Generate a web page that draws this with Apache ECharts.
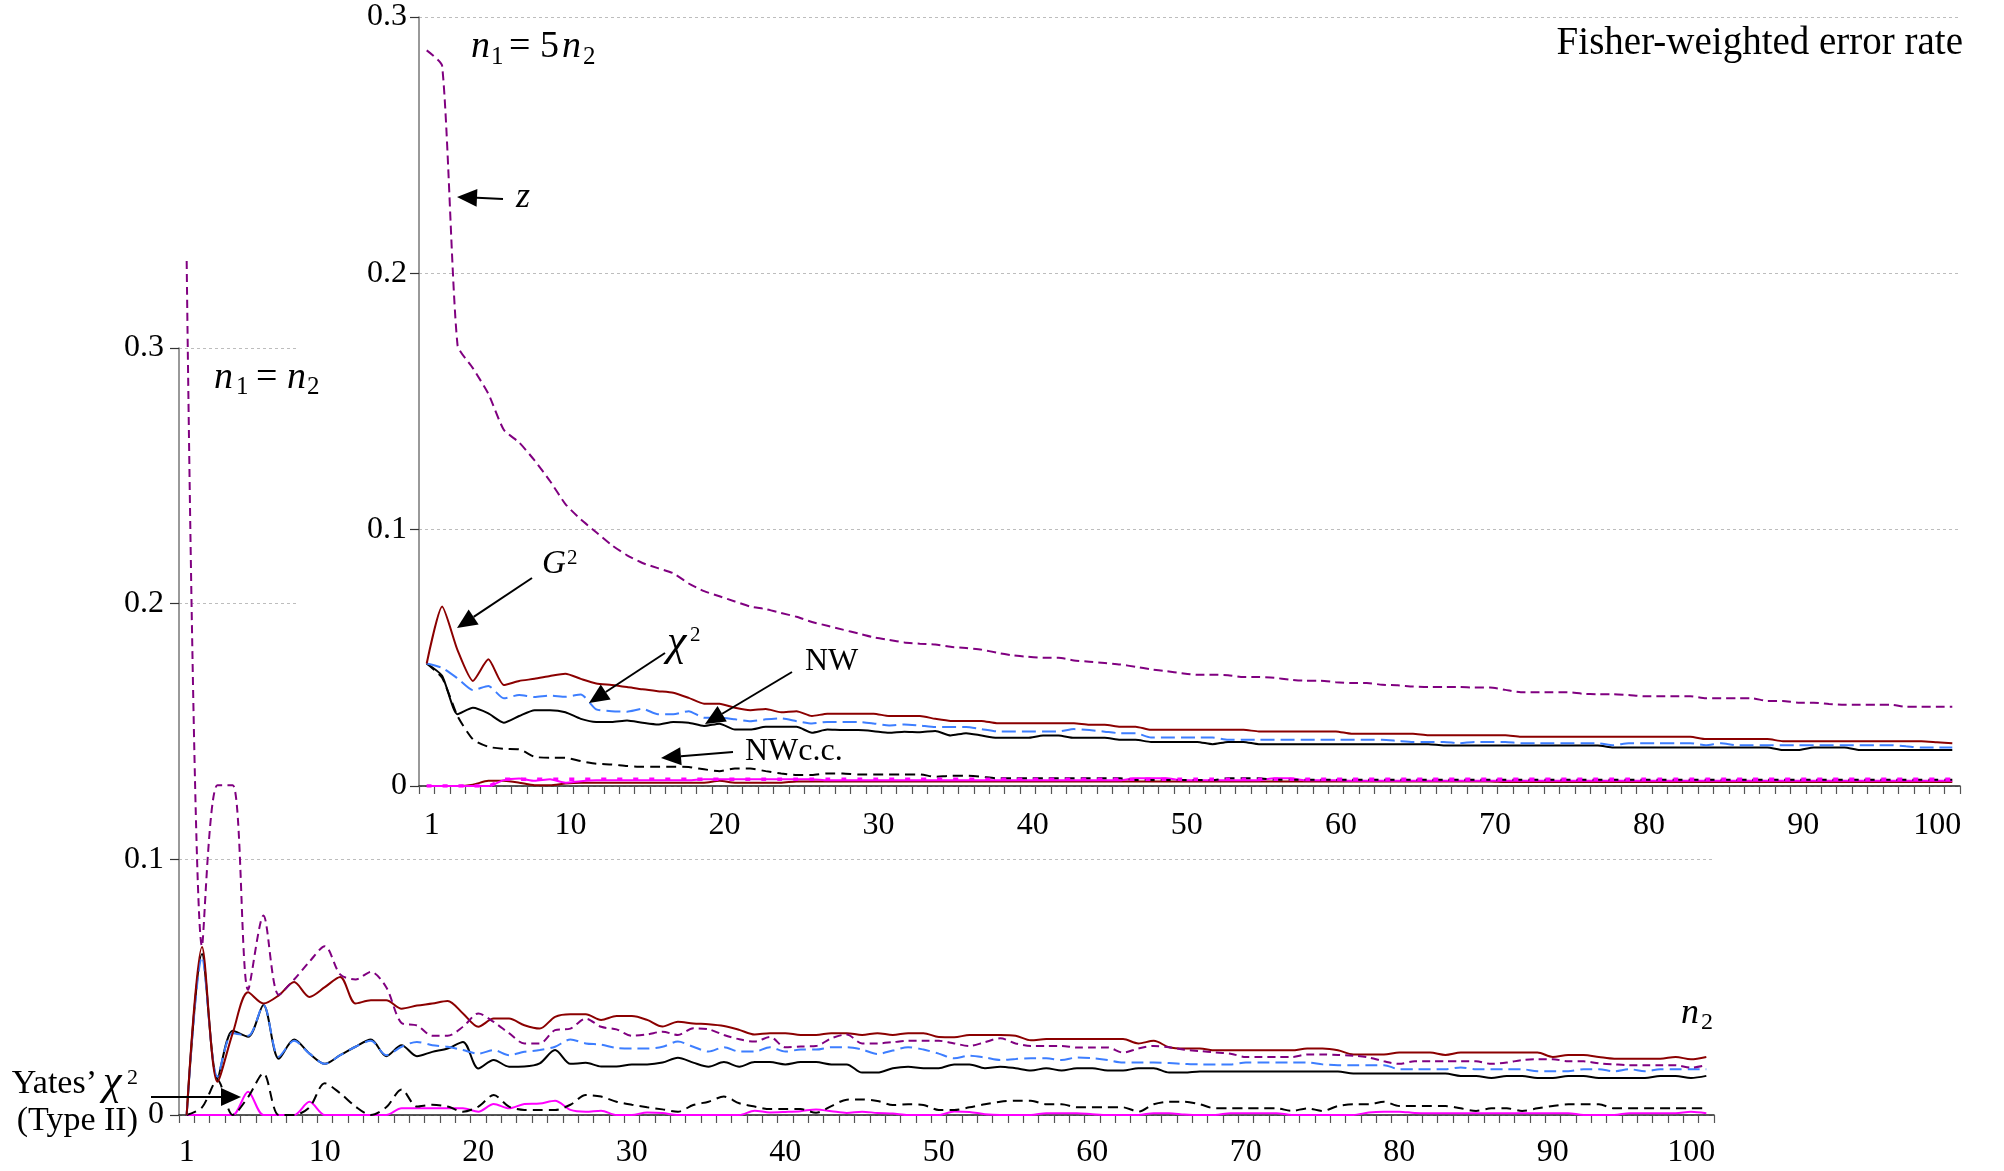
<!DOCTYPE html>
<html>
<head>
<meta charset="utf-8">
<script src="https://cdn.jsdelivr.net/npm/echarts@6/dist/echarts.min.js"></script>
<style>
  html, body { margin: 0; padding: 0; background: #ffffff; }
  #chart { width: 2004px; height: 1171px; }
</style>
</head>
<body>
<div id="chart"></div>
<script>
// n2 = 1 .. 100
const nLabels = Array.from({ length: 100 }, (_, i) => String(i + 1));
const yTicks = [0, 0.1, 0.2, 0.3];

// ---- n1 = n2 (main panel) ----
const zBot = [0.334,0.066,0.129,0.129,0.049,0.078,0.047,0.053,0.060,0.066,
  0.055,0.053,0.056,0.050,0.036,0.035,0.031,0.031,0.0345,0.0397,
  0.0364,0.032,0.028,0.028,0.0332,0.0338,0.0377,0.0345,0.0335,0.031,
  0.0315,0.0326,0.0313,0.0339,0.0335,0.0313,0.0296,0.0287,0.0305,0.0265,
  0.0268,0.027,0.030,0.0315,0.028,0.028,0.0285,0.029,0.029,0.029,
  0.028,0.027,0.0285,0.030,0.028,0.027,0.027,0.027,0.0264,0.0264,
  0.0264,0.0244,0.026,0.027,0.0265,0.0255,0.025,0.0245,0.024,0.0227,
  0.0227,0.0227,0.0227,0.0237,0.0237,0.0235,0.0232,0.0225,0.021,0.020,
  0.021,0.021,0.021,0.021,0.021,0.020,0.0205,0.0215,0.0218,0.0218,
  0.021,0.021,0.0202,0.0198,0.0195,0.0195,0.0195,0.0195,0.0185,0.0195];

const g2Bot = [0,0.0657,0.013,0.032,0.048,0.0436,0.0468,0.052,0.0462,0.050,
  0.054,0.0436,0.0449,0.0449,0.0416,0.0428,0.0436,0.0446,0.0397,0.0345,
  0.0377,0.0377,0.0351,0.0338,0.0384,0.0394,0.0394,0.0372,0.0387,0.0387,
  0.0372,0.0346,0.0365,0.0358,0.0355,0.0348,0.0333,0.0315,0.032,0.032,
  0.0313,0.0313,0.032,0.032,0.0313,0.032,0.0313,0.032,0.032,0.0305,
  0.0304,0.0313,0.0313,0.0313,0.031,0.0292,0.0297,0.0297,0.0297,0.0297,
  0.0297,0.0297,0.028,0.029,0.0265,0.026,0.026,0.0253,0.0253,0.0253,
  0.0253,0.0253,0.0253,0.026,0.026,0.0253,0.0237,0.0237,0.0237,0.0244,
  0.0244,0.0244,0.0235,0.0244,0.0244,0.0244,0.0244,0.0244,0.0244,0.0227,
  0.0235,0.0235,0.0227,0.022,0.022,0.022,0.022,0.0227,0.0218,0.0227];

const chiBot = [0,0.0618,0.015,0.032,0.031,0.043,0.0228,0.029,0.024,0.020,
  0.0234,0.0267,0.029,0.0234,0.0267,0.0286,0.0273,0.0267,0.0254,0.024,
  0.0254,0.0234,0.0247,0.0254,0.0267,0.0295,0.028,0.0275,0.0262,0.026,
  0.026,0.0267,0.0287,0.0267,0.0248,0.0265,0.0248,0.0248,0.0265,0.0248,
  0.0256,0.0256,0.0265,0.0265,0.0256,0.0239,0.0252,0.0265,0.0256,0.024,
  0.0222,0.0232,0.0225,0.0215,0.0219,0.0222,0.0222,0.0215,0.0225,0.0222,
  0.0215,0.0205,0.0205,0.0205,0.0203,0.020,0.0198,0.0198,0.0198,0.0205,
  0.0205,0.0205,0.0205,0.0205,0.0198,0.0195,0.0195,0.0195,0.0195,0.0179,
  0.0179,0.0179,0.0179,0.0186,0.0179,0.0179,0.0179,0.0179,0.0171,0.0171,
  0.0171,0.0179,0.0179,0.0171,0.0179,0.0171,0.0179,0.0179,0.0179,0.0179];

const nwBot = [0,0.063,0.0143,0.033,0.0306,0.043,0.022,0.0295,0.024,0.020,
  0.0234,0.0267,0.0295,0.023,0.0273,0.023,0.0247,0.026,0.0286,0.0182,
  0.0215,0.0189,0.019,0.0202,0.0254,0.020,0.0204,0.019,0.019,0.0198,
  0.0198,0.0205,0.0224,0.0205,0.0189,0.0207,0.0189,0.0207,0.0207,0.0198,
  0.0207,0.0207,0.0198,0.0198,0.0166,0.0166,0.0183,0.0189,0.0183,0.0183,
  0.0198,0.0198,0.0183,0.0189,0.0183,0.0174,0.0183,0.0174,0.0183,0.0183,
  0.0174,0.0174,0.0183,0.0183,0.0166,0.0166,0.017,0.017,0.017,0.017,
  0.017,0.017,0.017,0.017,0.017,0.017,0.0162,0.0162,0.0162,0.0162,
  0.0162,0.0162,0.0162,0.0153,0.0153,0.0145,0.0153,0.0153,0.0145,0.0145,
  0.0153,0.0153,0.0145,0.0145,0.0145,0.0145,0.0153,0.0153,0.0145,0.0153];

const nwccBot = [0,0.003,0.0137,0,0.007,0.0163,0,0,0.003,0.0124,
  0.0085,0.0033,0,0.003,0.010,0.0033,0.004,0.0033,0.0013,0.0033,
  0.0078,0.0033,0.002,0.002,0.002,0.004,0.0078,0.0072,0.0052,0.004,
  0.003,0.0022,0.0013,0.0039,0.0052,0.0072,0.0046,0.0033,0.0023,0.0023,
  0.0023,0.0009,0.0035,0.006,0.0061,0.0055,0.0039,0.0042,0.0039,0.002,
  0.002,0.003,0.0042,0.0052,0.0056,0.0056,0.0042,0.0042,0.003,0.003,
  0.003,0.003,0.0013,0.0042,0.0052,0.0052,0.0042,0.0026,0.0026,0.0026,
  0.0026,0.0026,0.0016,0.0026,0.0016,0.0035,0.0042,0.0042,0.0052,0.0035,
  0.0035,0.0035,0.0035,0.0026,0.0016,0.0026,0.0026,0.0016,0.0026,0.0035,
  0.0042,0.0042,0.0042,0.0026,0.0026,0.0026,0.0026,0.0026,0.0026,0.0026];

const yatesBot = [0,0,0,0,0.0091,0,0,0,0.0052,0,
  0,0,0,0,0.0026,0.0026,0.0026,0.0026,0.0026,0.0013,
  0.0043,0.0026,0.0043,0.0045,0.0056,0.002,0.0013,0.0017,0,0,
  0.001,0.0008,0,0,0,0,0,0.0017,0.001,0.0012,
  0.0015,0.0022,0.0015,0.0008,0.0013,0.0008,0.0006,0,0,0,
  0.0014,0.0012,0.0003,0,0,0,0.0007,0.0007,0.0007,0.0003,
  0,0,0,0.0007,0.0007,0.0002,0,0,0.0007,0.0007,
  0.0007,0.0007,0,0,0,0,0,0.001,0.0013,0.0013,
  0.0008,0.0007,0.0007,0.0007,0.0007,0.0007,0.0007,0.0007,0.0007,0.0007,
  0.0007,0,0,0,0.0007,0.0007,0.0007,0.0007,0.0013,0.0007];

// ---- n1 = 5 n2 (inset panel) ----
const zTop = [0.287,0.281,0.172,0.163,0.153,0.139,0.134,0.127,0.119,0.110,
  0.104,0.099,0.094,0.090,0.087,0.085,0.083,0.079,0.076,0.074,
  0.072,0.070,0.069,0.0675,0.066,0.064,0.0625,0.061,0.0595,0.058,
  0.057,0.056,0.0555,0.0552,0.0543,0.0538,0.0532,0.052,0.051,0.0504,
  0.050,0.050,0.049,0.0485,0.048,0.0474,0.0465,0.0455,0.0448,0.044,
  0.0434,0.0434,0.0432,0.0425,0.0425,0.0422,0.0415,0.0411,0.0411,0.0405,
  0.0402,0.0402,0.0395,0.0393,0.0388,0.0386,0.0386,0.0386,0.0384,0.0384,
  0.0375,0.0366,0.0366,0.0366,0.0366,0.036,0.0358,0.0358,0.0355,0.035,
  0.035,0.035,0.035,0.0342,0.0342,0.0342,0.0342,0.0332,0.0332,0.0325,
  0.0325,0.032,0.0317,0.0317,0.0317,0.0317,0.0309,0.0309,0.0309,0.0309];

const g2Top = [0.0478,0.070,0.053,0.041,0.0494,0.0394,0.041,0.0418,0.0429,0.0438,
  0.0418,0.040,0.0394,0.0386,0.0377,0.037,0.0364,0.0344,0.0321,0.0321,
  0.0305,0.0296,0.030,0.0288,0.0292,0.0273,0.0282,0.0282,0.0282,0.0282,
  0.0273,0.0273,0.0273,0.0262,0.0254,0.0254,0.0254,0.0245,0.0245,0.0245,
  0.0245,0.0245,0.0245,0.0239,0.0239,0.0231,0.0231,0.0219,0.0219,0.0219,
  0.0219,0.0219,0.0219,0.0219,0.0213,0.0213,0.0213,0.0213,0.0213,0.0213,
  0.0204,0.0204,0.0204,0.0204,0.0204,0.0198,0.0198,0.0198,0.0198,0.0198,
  0.0198,0.0192,0.0192,0.0192,0.0192,0.0192,0.0192,0.0192,0.0192,0.0192,
  0.0192,0.0192,0.0192,0.0183,0.0183,0.0183,0.0183,0.0183,0.0175,0.0175,
  0.0175,0.0175,0.0175,0.0175,0.0175,0.0175,0.0175,0.0175,0.0171,0.0167];

const chiTop = [0.0478,0.0461,0.042,0.0374,0.039,0.0342,0.0355,0.0347,0.0353,0.0348,
  0.0357,0.0299,0.0292,0.029,0.0301,0.028,0.028,0.0292,0.0266,0.0266,
  0.026,0.0253,0.026,0.0264,0.0253,0.0244,0.025,0.025,0.025,0.0244,
  0.0236,0.024,0.0236,0.023,0.023,0.023,0.0222,0.0213,0.0213,0.0213,
  0.0213,0.0213,0.0222,0.0218,0.0212,0.0206,0.0206,0.0189,0.0189,0.0189,
  0.0189,0.0189,0.018,0.018,0.018,0.018,0.018,0.018,0.018,0.018,
  0.018,0.018,0.018,0.0176,0.0172,0.0172,0.0172,0.0167,0.0172,0.0172,
  0.0172,0.0167,0.0167,0.0167,0.0167,0.0167,0.0167,0.0159,0.0167,0.0167,
  0.0167,0.0167,0.0167,0.0159,0.0167,0.0159,0.0159,0.0159,0.0159,0.0159,
  0.0159,0.0159,0.0159,0.0159,0.0159,0.0159,0.0155,0.015,0.015,0.015];

const nwTop = [0.0478,0.043,0.028,0.0305,0.0283,0.0247,0.0273,0.0296,0.0296,0.0288,
  0.0262,0.025,0.025,0.0256,0.0247,0.024,0.025,0.0247,0.0234,0.0243,
  0.022,0.022,0.0231,0.0231,0.0231,0.0208,0.022,0.0218,0.0218,0.0214,
  0.0208,0.0212,0.021,0.0215,0.0197,0.0206,0.0197,0.0188,0.0188,0.0188,
  0.0197,0.0197,0.0188,0.0188,0.0188,0.018,0.018,0.0172,0.0172,0.0172,
  0.0172,0.0163,0.0172,0.0172,0.0163,0.0163,0.0163,0.0163,0.0163,0.0163,
  0.0163,0.0163,0.0163,0.0163,0.0163,0.0163,0.0158,0.0158,0.0158,0.0158,
  0.0158,0.0158,0.0158,0.0158,0.0158,0.0158,0.0158,0.015,0.015,0.015,
  0.015,0.015,0.015,0.015,0.015,0.015,0.015,0.015,0.014,0.014,
  0.015,0.015,0.015,0.014,0.014,0.014,0.014,0.014,0.014,0.014];

const nwccTop = [0.0478,0.0422,0.0273,0.0182,0.0153,0.0145,0.0143,0.0114,0.011,0.011,
  0.0097,0.0087,0.0084,0.0078,0.0075,0.0075,0.0075,0.0074,0.0065,0.0058,
  0.0068,0.0068,0.0058,0.0049,0.0043,0.0043,0.0049,0.0049,0.0045,0.0045,
  0.0045,0.0045,0.0045,0.0036,0.004,0.004,0.0036,0.003,0.003,0.003,
  0.003,0.003,0.003,0.003,0.003,0.003,0.0023,0.0023,0.0023,0.0023,
  0.0023,0.0023,0.003,0.003,0.003,0.0024,0.0024,0.0024,0.0024,0.0024,
  0.0024,0.0024,0.0024,0.0024,0.0024,0.0024,0.0024,0.0024,0.0024,0.0024,
  0.0024,0.0024,0.0024,0.0024,0.0024,0.0024,0.0024,0.0024,0.0024,0.0024,
  0.0024,0.0024,0.0024,0.0024,0.0024,0.0024,0.0024,0.0024,0.0024,0.0024,
  0.0024,0.0024,0.0024,0.0024,0.0024,0.0024,0.0024,0.0024,0.0024,0.0024];

const yatesTop = [0,0,0,0,0,0.0023,0.0029,0.002,0.0026,0.0013,
  0.0019,0.0022,0.0022,0.0022,0.0022,0.0022,0.0022,0.0022,0.0026,0.0026,
  0.0026,0.0026,0.0026,0.0026,0.0026,0.0026,0.0022,0.0022,0.0022,0.0022,
  0.0022,0.0022,0.0022,0.0022,0.0022,0.0022,0.0022,0.0022,0.0022,0.0022,
  0.0022,0.0022,0.0022,0.0022,0.0022,0.0022,0.003,0.003,0.003,0.0022,
  0.0022,0.0022,0.0022,0.0022,0.0022,0.003,0.003,0.0022,0.0022,0.0022,
  0.002,0.002,0.002,0.002,0.002,0.002,0.002,0.002,0.002,0.002,
  0.002,0.002,0.002,0.002,0.002,0.002,0.002,0.002,0.002,0.002,
  0.002,0.002,0.002,0.002,0.002,0.002,0.002,0.002,0.002,0.002,
  0.002,0.002,0.002,0.002,0.002,0.002,0.002,0.002,0.002,0.002];

const magDashTop = [0,0,0,0,0,0.0026,0.0026,0.0026,0.0026,0.0026,
  0.0026,0.0026,0.0026,0.0026,0.0026,0.0026,0.0026,0.0026,0.0026,0.0026,
  0.0026,0.0026,0.0026,0.0026,0.0026,0.0026,0.0026,0.0026,0.0026,0.0026,
  0.0026,0.0026,0.0026,0.0026,0.0026,0.0026,0.0026,0.0026,0.0026,0.0026,
  0.0026,0.0026,0.0026,0.0026,0.0026,0.0026,0.0026,0.0026,0.0026,0.0026,
  0.0026,0.0026,0.0026,0.0026,0.0026,0.0026,0.0026,0.0026,0.0026,0.0026,
  0.0026,0.0026,0.0026,0.0026,0.0026,0.0026,0.0026,0.0026,0.0026,0.0026,
  0.0026,0.0026,0.0026,0.0026,0.0026,0.0026,0.0026,0.0026,0.0026,0.0026,
  0.0026,0.0026,0.0026,0.0026,0.0026,0.0026,0.0026,0.0026,0.0026,0.0026,
  0.0026,0.0026,0.0026,0.0026,0.0026,0.0026,0.0026,0.0026,0.0026,0.0026];

const g2LowTop = [0,0,0,0.0005,0.002,0.002,0.0013,0.0003,0.0003,0.001,
  0.0013,0.0013,0.0013,0.0013,0.0013,0.0013,0.0013,0.0013,0.0013,0.002,
  0.0013,0.0013,0.0013,0.0013,0.0018,0.0018,0.0018,0.0018,0.0018,0.0018,
  0.0018,0.0018,0.0018,0.0018,0.0018,0.0018,0.0018,0.0018,0.0018,0.0018,
  0.0018,0.0018,0.0018,0.0018,0.0018,0.0018,0.0018,0.0018,0.0018,0.0018,
  0.0018,0.0018,0.0018,0.0018,0.0018,0.0018,0.0018,0.0018,0.0018,0.0018,
  0.0018,0.0018,0.0018,0.0018,0.0018,0.0018,0.0018,0.0018,0.0018,0.0018,
  0.0016,0.0016,0.0016,0.0016,0.0016,0.0016,0.0016,0.0016,0.0016,0.0016,
  0.0016,0.0016,0.0016,0.0016,0.0016,0.0016,0.0016,0.0016,0.0016,0.0016,
  0.0016,0.0016,0.0016,0.0016,0.0016,0.0016,0.0016,0.0016,0.0016,0.0016];

// ---- styling ----
const FONT = '"Liberation Serif", "Times New Roman", serif';
const C_Z = '#800080', C_G2 = '#8b0000', C_CHI = '#3d7eff', C_NW = '#000000', C_YATES = '#ff00ff';

// tick labels: the last label ("100") sits pulled in towards the axis end;
// shiftLeft is the left padding applied to every other label
function xAxisFor(gridIndex, z, margin, shiftLeft) {
  const base = { fontFamily: FONT, fontSize: 32, color: '#000' };
  return {
    type: 'category', gridIndex, data: nLabels, boundaryGap: true, z,
    axisLine: { show: true, lineStyle: { color: '#222', width: 1.5 } },
    axisTick: { show: true, interval: 0, length: 8, inside: false, lineStyle: { color: '#555', width: 1.2 } },
    axisLabel: Object.assign({
      interval: (i) => i === 0 || (i + 1) % 10 === 0,
      margin,
      formatter: (v) => (v === nLabels[nLabels.length - 1] ? '{last|' + v + '}' : '{n|' + v + '}'),
      rich: {
        n: Object.assign({ padding: [0, 0, 0, shiftLeft] }, base),
        last: Object.assign({ padding: [0, 30, 0, 0] }, base)
      }
    }, base),
    splitLine: { show: false }
  };
}
function yAxisFor(gridIndex, z, margin) {
  return {
    type: 'value', gridIndex, min: yTicks[0], max: yTicks[yTicks.length - 1], interval: 0.1, z,
    axisLine: { show: true, lineStyle: { color: '#777', width: 1.5 } },
    axisTick: { show: true, length: 9, lineStyle: { color: '#333', width: 1.2 } },
    axisLabel: {
      margin, fontFamily: FONT, fontSize: 32, color: '#000',
      formatter: (v) => (v === 0 ? '0' : v.toFixed(1))
    },
    splitLine: { show: true, lineStyle: { color: '#bdbdbd', width: 1, type: [3, 3] } }
  };
}
function line(name, data, gi, color, dash, width, smooth, z, clip) {
  return {
    type: 'line', name, data, xAxisIndex: gi, yAxisIndex: gi,
    symbol: 'none', smooth, z, clip: clip !== false,
    lineStyle: { color, width, type: dash || 'solid' },
    emphasis: { disabled: true }
  };
}

// ---- annotation helpers (labels and pointer arrows) ----
function txt(str, x, baseline, size, italic, align) {
  return {
    type: 'text', x, y: baseline - 0.33 * size, z: 10, silent: true,
    style: {
      text: str, fill: '#000',
      font: (italic ? 'italic ' : '') + size + 'px ' + FONT,
      align: align || 'left', textAlign: align || 'left',
      verticalAlign: 'middle', textVerticalAlign: 'middle'
    }
  };
}
function arrow(x1, y1, x2, y2) {
  const L = 20, W = 9;
  const len = Math.hypot(x2 - x1, y2 - y1);
  const ux = (x2 - x1) / len, uy = (y2 - y1) / len;
  const bx = x2 - ux * L, by = y2 - uy * L;
  const px = -uy, py = ux;
  return [
    { type: 'line', z: 10, silent: true, shape: { x1, y1, x2: bx, y2: by }, style: { stroke: '#000', lineWidth: 2 } },
    { type: 'polygon', z: 10, silent: true,
      shape: { points: [[x2, y2], [bx + px * W, by + py * W], [bx - px * W, by - py * W]] },
      style: { fill: '#000' } }
  ];
}

const annotations = [
  // white panel behind the inset
  { type: 'rect', z: 1, silent: true, shape: { x: 299, y: 0, width: 1705, height: 850 }, style: { fill: '#ffffff' } },

  txt('Fisher-weighted error rate', 1963, 57, 39, false, 'right'),

  txt('n', 471, 60, 38, true), txt('1', 491, 66, 25), txt('= 5', 509, 60, 38),
  txt('n', 562, 60, 38, true), txt('2', 583, 66, 25),

  txt('z', 516, 209, 36, true),
  txt('G', 542, 575, 33, true), txt('2', 567, 565, 21),
  txt('\u03C7', 667, 658, 44, true), txt('2', 690, 642, 21),
  txt('NW', 805, 672, 32),
  txt('NWc.c.', 745, 762, 32),

  txt('n', 214, 391, 38, true), txt('1', 236, 396, 25), txt('=', 256, 391, 38),
  txt('n', 287, 391, 38, true), txt('2', 307, 396, 25),

  txt('n', 1681, 1025, 36, true), txt('2', 1701, 1031, 24),

  txt('Yates\u2019', 97, 1095, 34, false, 'right'), txt('\u03C7', 103, 1097, 42, true),
  txt('2', 127, 1085, 22),
  txt('(Type II)', 138, 1132, 34, false, 'right'),

  ...arrow(503, 199, 457, 197),
  ...arrow(532, 578, 457, 628),
  ...arrow(665, 653, 589, 703),
  ...arrow(792, 672, 705, 724),
  ...arrow(733, 752, 661, 758),
  ...arrow(151, 1097, 241, 1097)
];

const chart = echarts.init(document.getElementById('chart'), null, { renderer: 'canvas' });
chart.setOption({
  backgroundColor: '#ffffff',
  animation: false,
  grid: [
    { left: 179, top: 348, width: 1535, height: 767, outerBoundsMode: 'none', containLabel: false },
    { left: 419, top: 17, width: 1541, height: 769, outerBoundsMode: 'none', containLabel: false }
  ],
  xAxis: [xAxisFor(0, 0, 22, 0), xAxisFor(1, 3, 24, 10)],
  yAxis: [yAxisFor(0, 0, 15), yAxisFor(1, 3, 12)],
  series: [
    line('Yates χ² (Type II), n1 = n2', yatesBot, 0, C_YATES, 'solid', 2, 0.3, 2),
    line('NWc.c., n1 = n2', nwccBot, 0, C_NW, [10, 6], 2, 0.3, 2),
    line('NW, n1 = n2', nwBot, 0, C_NW, 'solid', 2, 0.3, 2),
    line('χ², n1 = n2', chiBot, 0, C_CHI, [12, 6], 2, 0.3, 2),
    line('G², n1 = n2', g2Bot, 0, C_G2, 'solid', 2, 0.3, 2),
    line('z, n1 = n2', zBot, 0, C_Z, [8, 5], 2, 0.3, 2, false),

    line('G² (Type II), n1 = 5n2', g2LowTop, 1, C_G2, 'solid', 2, 0.2, 4),
    line('Yates χ² (Type II), n1 = 5n2', yatesTop, 1, C_YATES, 'solid', 2, 0.2, 4),
    line('NWc.c., n1 = 5n2', nwccTop, 1, C_NW, [10, 6], 2, 0.2, 4),
    line('z (Type II), n1 = 5n2', magDashTop, 1, C_YATES, [5, 11], 3.5, 0.2, 4),
    line('NW, n1 = 5n2', nwTop, 1, C_NW, 'solid', 2, 0.2, 4),
    line('χ², n1 = 5n2', chiTop, 1, C_CHI, [14, 6], 2, 0.2, 4),
    line('G², n1 = 5n2', g2Top, 1, C_G2, 'solid', 2, 0.2, 4),
    line('z, n1 = 5n2', zTop, 1, C_Z, [9, 5], 2, 0.2, 4)
  ],
  graphic: { elements: annotations }
});
</script>
</body>
</html>
